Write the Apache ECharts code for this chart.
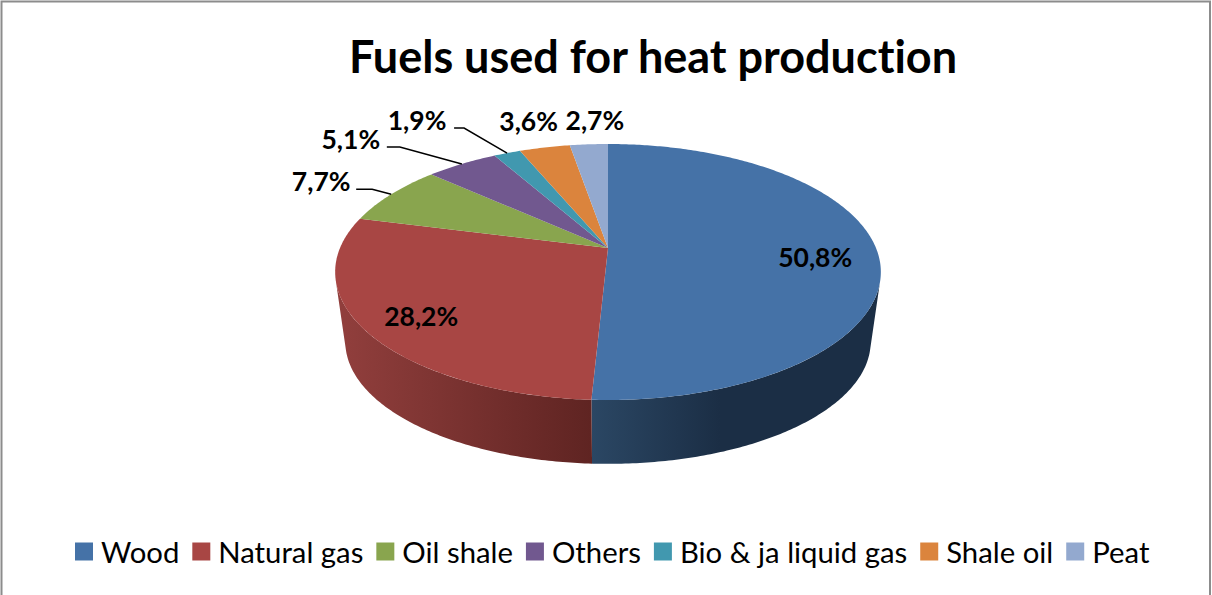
<!DOCTYPE html>
<html>
<head>
<meta charset="utf-8">
<style>html,body{margin:0;padding:0;background:#fff;overflow:hidden}#c{width:1212px;height:595px}svg text{font-variant-ligatures:none}</style>
<script src="https://cdn.jsdelivr.net/npm/echarts@6/dist/echarts.min.js"></script>
</head>
<body>
<div id="c"></div>
<script>
const categories = ['Wood','Natural gas','Oil shale','Others','Bio & ja liquid gas','Shale oil','Peat'];
const shares = [50.8,28.2,7.7,5.1,1.9,3.6,2.7];
const colors = ['#4572A7','#A84644','#89A54E','#71588F','#4198AF','#DB843D','#93A9CF'];

// Perspective view of the disc: top and bottom planes
const FONT = 'Lato, "Open Sans", sans-serif';
const APEX_X = 608, TILT = 0.1875;
const TOP = {y: 248, a: 123.5, b: 268};
const BOTTOM = {y: 319, a: 117.7, b: 258};
const WALL_FROM = 105, WALL_TO = 255;
const wallStops = {
  0: ['#2B4764','#1B2E45',591,720],
  1: ['#903E3C','#5F2422',345,591]
};
// label placement relative to the rim point at each slice's mid angle
const labelOffset = [[-62,6],[56,-14],[-70,-13],[-111,-25],[-90,-33],[-16,-26],[6,-24]];
const leader = {2:[[-35,-5],[-19,-5]], 3:[[-75,-17],[-62,-17]], 4:[[-53,-25],[-43,-25]]};

function project(plane, deg){
  const r = deg*Math.PI/180, u = Math.sin(r), v = Math.cos(r), w = 1+TILT*v;
  return [APEX_X + plane.b*u/w, plane.y - plane.a*v/w];
}
function arc(plane, from, to){
  const n = Math.max(2, Math.ceil(Math.abs(to-from)*1.5)), pts = [];
  for(let i=0;i<=n;i++) pts.push(project(plane, from+(to-from)*i/n));
  return pts;
}
function startOf(i){ let s=0; for(let k=0;k<i;k++) s+=shares[k]; return s; }

function makeRender(i){
  return function(params, api){
    const value = api.value(0);
    const a0 = startOf(i)*3.6, a1 = a0 + value*3.6, mid = (a0+a1)/2;
    const children = [];
    const wf = Math.max(a0, WALL_FROM), wt = Math.min(a1, WALL_TO);
    if(wt > wf && wallStops[i]){
      const st = wallStops[i];
      children.push({type:'polygon', silent:true,
        shape:{points: arc(TOP,wf,wt).concat(arc(BOTTOM,wt,wf))},
        style:{fill:{type:'linear',global:true,x:st[2],y:0,x2:st[3],y2:0,
          colorStops:[{offset:0,color:st[0]},{offset:1,color:st[1]}]}}});
    }
    children.push({type:'polygon', silent:true,
      shape:{points: [[APEX_X,TOP.y]].concat(arc(TOP,a0,a1))},
      style:{fill:colors[i]}});
    const rim = project(TOP, mid);
    if(leader[i]){
      const pts = leader[i].map(o=>[rim[0]+o[0],rim[1]+o[1]]).concat([rim]);
      children.push({type:'polyline', silent:true, shape:{points:pts},
        style:{fill:'none',stroke:'#000',lineWidth:1.5}});
    }
    children.push({type:'text', silent:true, z2:10, style:{
      x:rim[0]+labelOffset[i][0], y:rim[1]+labelOffset[i][1],
      text:value.toFixed(1).replace('.',',')+'%',
      font:'bold 26.5px '+FONT, fill:'#000', align:'center', verticalAlign:'middle'}});
    return {type:'group', children};
  };
}

const chart = echarts.init(document.getElementById('c'), null, {renderer:'svg'});
chart.setOption({
  animation:false,
  backgroundColor:'#fff',
  title:{text:'Fuels used for heat production', left:653, top:33, padding:0, textAlign:'center',
    textStyle:{fontFamily:FONT,fontWeight:'bold',fontSize:45,color:'#000'}},
  legend:{data:categories, left:75, top:537, padding:0, icon:'rect', itemWidth:18, itemHeight:18, itemGap:13,
    selectedMode:false,
    textStyle:{fontFamily:FONT,fontSize:29.3,color:'#000',padding:[0,0,0,3]}},
  graphic:[{type:'rect', silent:true, z:-1, shape:{x:1.5,y:1.5,width:1208.5,height:640},
    style:{fill:'none',stroke:'#8c8c8c',lineWidth:2}}],
  series:categories.map((name,i)=>({
    type:'custom', name, coordinateSystem:'none', clip:false, silent:true,
    itemStyle:{color:colors[i]},
    data:[[shares[i]]],
    renderItem:makeRender(i)
  }))
});
</script>
</body>
</html>
